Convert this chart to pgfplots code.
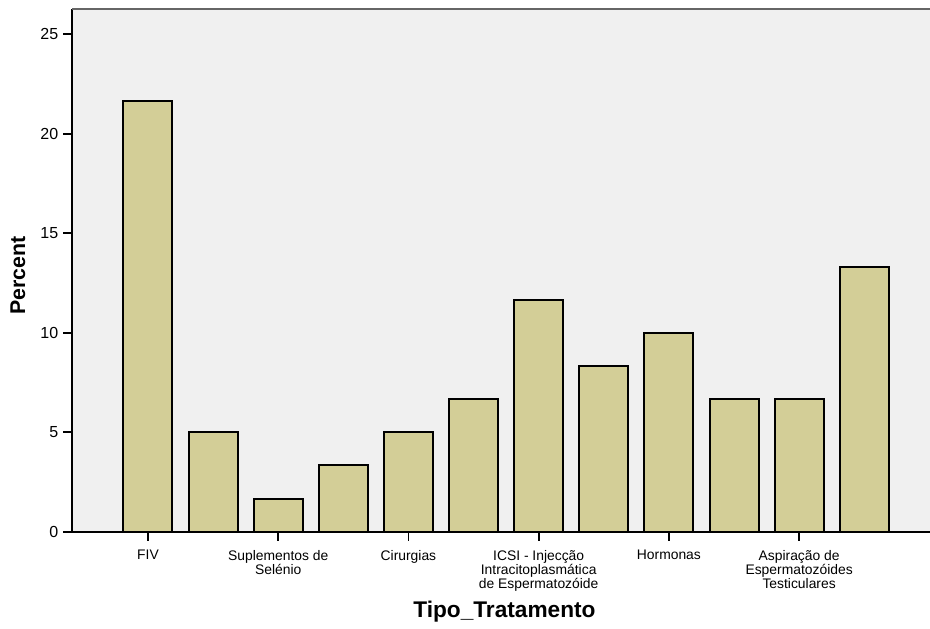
\documentclass[border=0pt]{standalone}
\usepackage{fontspec}
\setmainfont{Liberation Sans}
\usepackage{pgfplots}
\pgfplotsset{compat=1.18}
\definecolor{barfill}{HTML}{D3CE97}
\definecolor{plotbg}{HTML}{F0F0F0}
\begin{document}
\begin{tikzpicture}
\path[use as bounding box] (-54pt,-72.2pt) rectangle (643.5pt,398.8pt);
\begin{axis}[
  at={(0,0)}, anchor=south west,
  scale only axis, width=643.5pt, height=392pt,
  xmin=-1.167, xmax=12.01, ymin=0, ymax=26.27,
  axis x line=bottom, axis y line=left,
  axis line style={-, line width=1.4pt, black},
  axis background/.style={fill=plotbg},
  ybar, bar width=36.75pt,
  xtick={0,2,4,6,8,10},
  xticklabels={FIV,{Suplementos de\\Selénio},Cirurgias,{ICSI - Injecção\\Intracitoplasmática\\de Espermatozóide},Hormonas,{Aspiração de\\Espermatozóides\\Testiculares}},
  ytick={0,5,10,15,20,25},
  tick align=outside, tick pos=left,
  major tick length=6.75pt,
  tick style={line width=1.3pt, black},
  /pgf/number format/assume math mode=true,
  xticklabel style={align=center, font={\fontsize{10.4}{10.5}\selectfont}, yshift=-3.5pt},
  yticklabel style={font={\fontsize{12}{14}\selectfont}},
  ylabel={\textbf{Percent}},
  ylabel style={font={\fontsize{16}{18}\selectfont}, at={(axis description cs:0,0.49)}, anchor=center, yshift=40.5pt},
  xlabel={\textbf{Tipo\_Tratamento}},
  xlabel style={font={\fontsize{17}{19}\selectfont}, at={(axis description cs:0.504,0)}, anchor=base, yshift=-64.2pt},
  clip=false,
]
\addplot[fill=barfill, draw=black, line width=1.5pt] coordinates {
(0,21.67) (1,5) (2,1.67) (3,3.33) (4,5) (5,6.67) (6,11.67) (7,8.33) (8,10) (9,6.67) (10,6.67) (11,13.33)};
\draw[color=gray!80!black, line width=1.2pt] (rel axis cs:0,1) -- (rel axis cs:1,1);
\end{axis}
\end{tikzpicture}
\end{document}
